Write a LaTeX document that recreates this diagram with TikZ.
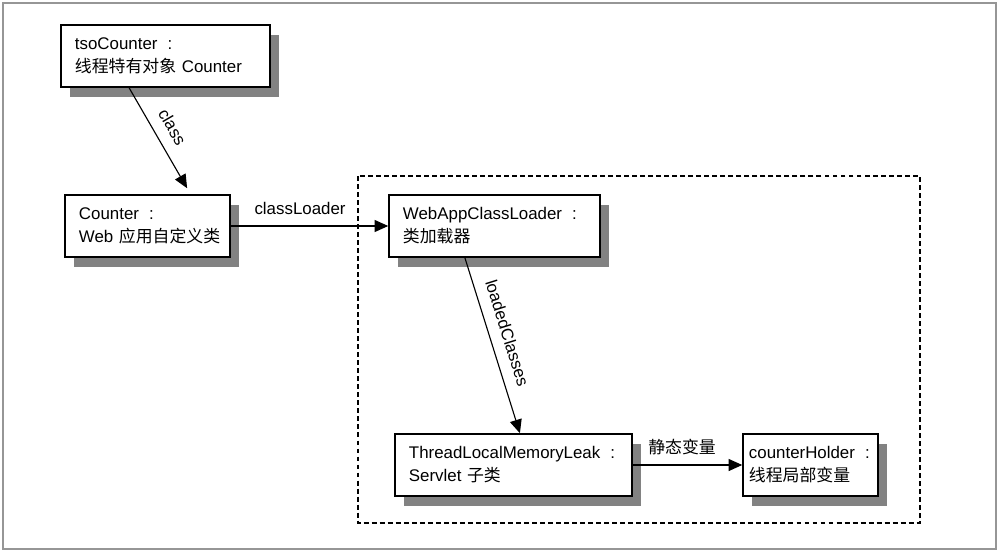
\documentclass[tikz,border=0pt]{standalone}
\usepackage{fontspec}
\setmainfont{Liberation Sans}
\newfontfamily\cjk{Noto Sans CJK SC}
\usetikzlibrary{arrows.meta,shadows}
\definecolor{frame}{RGB}{150,150,150}
\definecolor{shade}{RGB}{130,130,130}
\newcommand{\objfont}{\fontsize{12}{16.3}\selectfont}
\newcommand{\of}{\hspace{0.6em}:}
\tikzset{
  >={Triangle[length=3.4mm,width=3mm]},
  obj/.style={draw=black,line width=1.1pt,fill=white,inner xsep=3.5mm,inner ysep=0pt,
    text width=#1,minimum height=15.5mm,align=left,font=\objfont,
    drop shadow={shadow xshift=2.25mm,shadow yshift=-2.5mm,fill=shade,opacity=1}},
  link/.style={->,line width=0.8pt},
  tag/.style={font=\objfont,inner sep=2pt},
}

\begin{document}
\begin{tikzpicture}[x=0.025cm,y=-0.025cm]
  \useasboundingbox (0,0) rectangle (1000,553);
  \draw[frame,line width=1.2pt] (3,3) rectangle (996,549);
  % web application boundary
  \draw[line width=1.6pt,dash pattern=on 3.5pt off 2.2pt] (358,176) rectangle (920,523);
  \node[obj=45.25mm] (tso) at (165.5,56) {tsoCounter\of\\{\cjk 线程特有对象}~Counter};
  \node[obj=34.25mm] (counter) at (147.5,226) {Counter\of\\Web~{\cjk 应用自定义类}};
  \node[obj=45.75mm] (loader) at (494.5,226) {WebAppClassLoader\of\\{\cjk 类加载器}};
  \node[obj=52.25mm] (leak) at (513.5,465) {ThreadLocalMemoryLeak\of\\Servlet~{\cjk 子类}};
  \node[obj=30.75mm,inner xsep=1.5mm] (holder) at (810.5,465) {counterHolder\of\\{\cjk 线程局部变量}};
  \draw[link] ([xshift=-9.1mm]tso.south) -- ([xshift=9.9mm,yshift=1.5mm]counter.north)
    node[tag,pos=.48,sloped,above=6pt] {class};
  \draw[link] (counter.east) -- (loader.west) node[tag,pos=.44,above=6pt] {classLoader};
  \draw[link] ([xshift=-7.4mm]loader.south) -- ([xshift=1.6mm]leak.north)
    node[tag,pos=.46,sloped,above=6pt] {loadedClasses};
  \draw[link] (leak.east) -- (holder.west) node[tag,pos=.45,above=5pt] {{\cjk 静态变量}};
\end{tikzpicture}
\end{document}
